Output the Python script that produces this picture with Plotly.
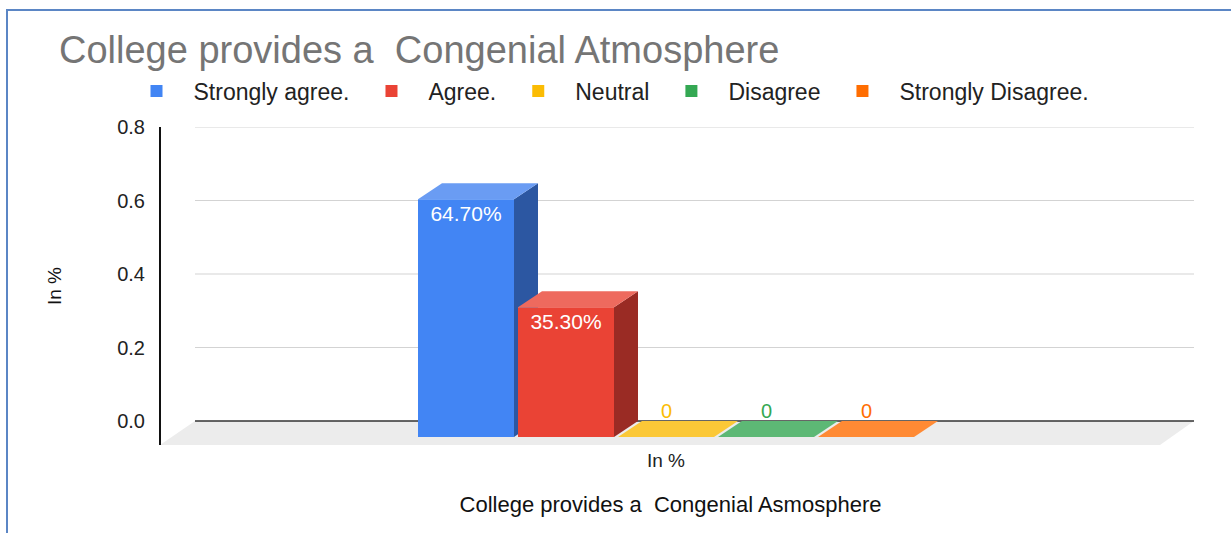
import plotly.graph_objects as go

# ---------------- data ----------------
CATEGORIES = ["In %"]
SERIES = ["Strongly agree.", "Agree.", "Neutral", "Disagree", "Strongly Disagree."]
VALUES = [0.647, 0.353, 0.0, 0.0, 0.0]
Y_TICKS = [0.0, 0.2, 0.4, 0.6, 0.8]
Y_TICK_LABELS = ["0.0", "0.2", "0.4", "0.6", "0.8"]
TITLE = "College provides a\u00a0 Congenial Atmosphere"
X_TITLE = "College provides a\u00a0 Congenial Asmosphere"
Y_TITLE = "In %"

# ---------------- styles ----------------
FRONT = ["#4285f4", "#ea4335", "#fbbc04", "#34a853", "#ff6d01"]
TOP = ["#6a9cf3", "#ee6a5e", "#fbc837", "#5db875", "#ff8a34"]
SIDE = ["#2c57a2", "#9a2b24", "#b08503", "#247539", "#b34c01"]
FONT = "Liberation Sans, Arial, sans-serif"

W, H = 1231, 533
# layout geometry in pixels
WALL_L, WALL_R = 195, 1194
WALL_TOP, WALL_ZERO = 127, 421
FLOOR_FRONT, FLOOR_L, FLOOR_R = 445, 160, 1160
DXP, DYP = 24, 16           # bar depth offset
SLOT_P, BAR_P = 100, 96      # bar pitch and width
GROUP_CENTER_P = 666

YMAX = Y_TICKS[-1]
S = (WALL_ZERO - WALL_TOP) / YMAX           # px per unit
FRONT_L, FRONT_R = WALL_L - DXP, WALL_R - DXP
XPX = FRONT_R - FRONT_L                      # px per x unit
x_lo = -(GROUP_CENTER_P - FRONT_L) / XPX
x_range = [x_lo, x_lo + 1]

SLOT = SLOT_P / XPX
BW = BAR_P / XPX
GAP = SLOT - BW
DX = DXP / XPX
DY = DYP / S
n = len(SERIES)
X_START = -(n * SLOT - GAP) / 2

y_front_range = [-(FLOOR_FRONT - (WALL_ZERO + DYP)) / S, YMAX + DYP / S]
y_wall_range = [-(FLOOR_FRONT - WALL_ZERO) / S, YMAX]

fig = go.Figure()
shapes = []
annotations = []

# floor
shapes.append(dict(
    type="path", xref="paper", yref="y2", layer="below",
    path=(f"M {WALL_L / W},0 L {WALL_R / W},0 "
          f"L {FLOOR_R / W},{y_wall_range[0]} L {FLOOR_L / W},{y_wall_range[0]} Z"),
    fillcolor="#ececec", line=dict(width=0)))
# gridlines on the back wall
for t in Y_TICKS:
    shapes.append(dict(
        type="line", xref="paper", yref="y2", layer="below",
        x0=WALL_L / W, x1=WALL_R / W, y0=t, y1=t,
        line=dict(color="#333333" if t == 0 else "#d3d3d3",
                  width=1.5 if t == 0 else 1)))

cat_x = [CATEGORIES.index(c) for c in CATEGORIES]

for i, (name, v) in enumerate(zip(SERIES, VALUES)):
    off = X_START + i * SLOT
    label = f"{v * 100:.2f}%" if v > 0 else "0"
    fig.add_trace(go.Bar(
        x=cat_x, y=[v], name=name, width=BW, offset=off,
        marker=dict(color=FRONT[i], line=dict(width=0)),
        text=[label] if v > 0 else None,
        textposition="inside", insidetextanchor="end",
        textfont=dict(color="white", size=21, family=FONT),
        yaxis="y", xaxis="x", hoverinfo="skip"))
    xl = cat_x[0] + off
    xr = xl + BW
    # side face (clipped by the next bar's front face)
    if v > 0:
        vn = VALUES[i + 1] if i + 1 < n else 0
        if vn > DY and vn < v:
            pts = [(xr, 0), (xr + GAP, GAP * DY / DX), (xr + GAP, vn),
                   (xr + DX, vn), (xr + DX, v + DY), (xr, v)]
        else:
            pts = [(xr, 0), (xr + DX, DY), (xr + DX, v + DY), (xr, v)]
        path = "M " + " L ".join(f"{a},{b}" for a, b in pts) + " Z"
        shapes.append(dict(type="path", xref="x", yref="y", path=path,
                           fillcolor=SIDE[i], line=dict(width=0)))
    # top face
    pts = [(xl, v), (xr, v), (xr + DX, v + DY), (xl + DX, v + DY)]
    path = "M " + " L ".join(f"{a},{b}" for a, b in pts) + " Z"
    shapes.append(dict(type="path", xref="x", yref="y", path=path,
                       fillcolor=TOP[i], line=dict(width=0)))
    if v <= 0:
        annotations.append(dict(
            x=xl + BW / 2, y=v + DY, xref="x", yref="y",
            text=label, showarrow=False, yanchor="bottom", yshift=-3,
            font=dict(color=FRONT[i], size=20, family=FONT)))

# frame
shapes.append(dict(type="rect", xref="paper", yref="paper",
                   x0=7 / W, x1=1.05, y0=-0.05, y1=1 - 10 / H,
                   line=dict(color="#5b86c5", width=2), fillcolor="rgba(0,0,0,0)"))

ydom = [(H - FLOOR_FRONT) / H, (H - WALL_TOP) / H]

fig.update_layout(
    width=W, height=H,
    margin=dict(l=0, r=0, t=0, b=0, autoexpand=False),
    paper_bgcolor="white", plot_bgcolor="white",
    barmode="overlay",
    font=dict(family=FONT, color="#222222"),
    title=dict(text=TITLE, x=59 / W, xanchor="left", xref="paper",
               y=1 - 50 / H, yanchor="middle", yref="paper",
               font=dict(size=38, color="#757575", family=FONT)),
    legend=dict(orientation="h", x=607 / W, xanchor="center",
                y=1 - 91 / H, yanchor="middle", itemwidth=64,
                font=dict(size=23, color="#222222", family=FONT),
                bgcolor="rgba(0,0,0,0)"),
    xaxis=dict(domain=[FRONT_L / W, FRONT_R / W], range=x_range,
               tickvals=cat_x, ticktext=CATEGORIES,
               showgrid=False, zeroline=False, showline=False, ticks="",
               ticklabelstandoff=2,
               tickfont=dict(size=19, color="#222222", family=FONT),
               title=dict(text=X_TITLE, standoff=26,
                          font=dict(size=22, color="#111111", family=FONT)),
               anchor="y", fixedrange=True),
    yaxis=dict(domain=ydom, range=y_front_range, visible=False, fixedrange=True),
    yaxis2=dict(domain=ydom, range=y_wall_range, overlaying="y",
                anchor="free", position=FLOOR_L / W, side="left",
                tickvals=Y_TICKS, ticktext=Y_TICK_LABELS,
                showgrid=False, zeroline=False,
                showline=True, linecolor="#111111", linewidth=2,
                ticks="", ticklabelstandoff=10,
                tickfont=dict(size=20, color="#222222", family=FONT),
                title=dict(text=Y_TITLE, standoff=50,
                           font=dict(size=19, color="#111111", family=FONT)),
                fixedrange=True),
    shapes=shapes,
    annotations=annotations,
)

fig.write_html("out.html", config={"displayModeBar": False},
               post_script="document.body.style.margin='0';")
